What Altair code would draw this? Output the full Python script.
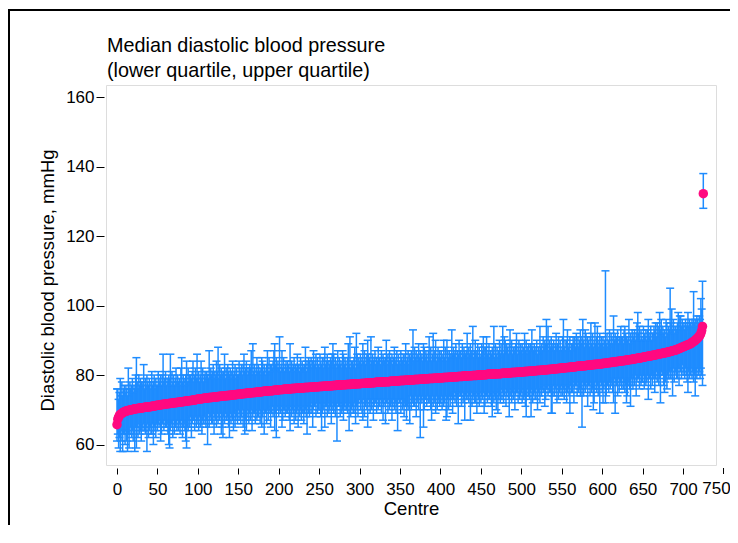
import altair as alt
import pandas as pd

# ---- data (centres sorted by median DBP) ----
MEDIAN = [
    65.7, 67.3, 67.9, 68.3, 68.6, 68.8, 69.0, 69.1, 69.3, 69.4, 69.5, 69.6, 69.7, 69.7, 69.8, 69.9, 69.9, 70.0, 70.0, 70.1, 70.1, 70.2, 70.2, 70.3, 70.3,
    70.4, 70.4, 70.4, 70.5, 70.5, 70.5, 70.6, 70.6, 70.6, 70.7, 70.7, 70.7, 70.8, 70.8, 70.8, 70.9, 70.9, 70.9, 71.0, 71.0, 71.0, 71.1, 71.1, 71.2, 71.2,
    71.3, 71.3, 71.3, 71.4, 71.4, 71.5, 71.5, 71.5, 71.6, 71.6, 71.6, 71.7, 71.7, 71.7, 71.8, 71.8, 71.8, 71.9, 71.9, 71.9, 72.0, 72.0, 72.0, 72.1, 72.1,
    72.1, 72.2, 72.2, 72.2, 72.3, 72.3, 72.3, 72.4, 72.4, 72.4, 72.5, 72.5, 72.5, 72.6, 72.6, 72.6, 72.7, 72.7, 72.7, 72.8, 72.8, 72.8, 72.9, 72.9, 73.0,
    73.0, 73.1, 73.1, 73.1, 73.2, 73.2, 73.2, 73.3, 73.3, 73.3, 73.3, 73.4, 73.4, 73.4, 73.5, 73.5, 73.5, 73.5, 73.6, 73.6, 73.6, 73.7, 73.7, 73.7, 73.7,
    73.8, 73.8, 73.8, 73.9, 73.9, 73.9, 73.9, 74.0, 74.0, 74.0, 74.0, 74.1, 74.1, 74.1, 74.1, 74.2, 74.2, 74.2, 74.3, 74.3, 74.3, 74.3, 74.4, 74.4, 74.4,
    74.5, 74.5, 74.5, 74.5, 74.6, 74.6, 74.6, 74.7, 74.7, 74.7, 74.7, 74.8, 74.8, 74.8, 74.8, 74.9, 74.9, 74.9, 74.9, 75.0, 75.0, 75.0, 75.0, 75.1, 75.1,
    75.1, 75.1, 75.2, 75.2, 75.2, 75.2, 75.3, 75.3, 75.3, 75.3, 75.4, 75.4, 75.4, 75.4, 75.5, 75.5, 75.5, 75.5, 75.5, 75.6, 75.6, 75.6, 75.6, 75.7, 75.7,
    75.7, 75.8, 75.8, 75.8, 75.8, 75.8, 75.9, 75.9, 75.9, 75.9, 75.9, 76.0, 76.0, 76.0, 76.0, 76.0, 76.1, 76.1, 76.1, 76.1, 76.1, 76.2, 76.2, 76.2, 76.2,
    76.2, 76.3, 76.3, 76.3, 76.3, 76.3, 76.3, 76.4, 76.4, 76.4, 76.4, 76.4, 76.4, 76.5, 76.5, 76.5, 76.5, 76.5, 76.5, 76.6, 76.6, 76.6, 76.6, 76.6, 76.6,
    76.7, 76.7, 76.7, 76.7, 76.7, 76.8, 76.8, 76.8, 76.8, 76.8, 76.8, 76.9, 76.9, 76.9, 76.9, 76.9, 76.9, 77.0, 77.0, 77.0, 77.0, 77.0, 77.1, 77.1, 77.1,
    77.1, 77.1, 77.1, 77.2, 77.2, 77.2, 77.2, 77.2, 77.2, 77.3, 77.3, 77.3, 77.3, 77.3, 77.3, 77.4, 77.4, 77.4, 77.4, 77.4, 77.4, 77.5, 77.5, 77.5, 77.5,
    77.5, 77.5, 77.6, 77.6, 77.6, 77.6, 77.6, 77.6, 77.7, 77.7, 77.7, 77.7, 77.7, 77.7, 77.8, 77.8, 77.8, 77.8, 77.8, 77.8, 77.9, 77.9, 77.9, 77.9, 77.9,
    77.9, 78.0, 78.0, 78.0, 78.0, 78.0, 78.0, 78.1, 78.1, 78.1, 78.1, 78.1, 78.1, 78.2, 78.2, 78.2, 78.2, 78.2, 78.2, 78.3, 78.3, 78.3, 78.3, 78.3, 78.3,
    78.4, 78.4, 78.4, 78.4, 78.4, 78.4, 78.5, 78.5, 78.5, 78.5, 78.5, 78.5, 78.6, 78.6, 78.6, 78.6, 78.6, 78.6, 78.7, 78.7, 78.7, 78.7, 78.7, 78.7, 78.8,
    78.8, 78.8, 78.8, 78.8, 78.8, 78.9, 78.9, 78.9, 78.9, 78.9, 78.9, 79.0, 79.0, 79.0, 79.0, 79.0, 79.0, 79.1, 79.1, 79.1, 79.1, 79.1, 79.1, 79.2, 79.2,
    79.2, 79.2, 79.2, 79.2, 79.3, 79.3, 79.3, 79.3, 79.3, 79.3, 79.4, 79.4, 79.4, 79.4, 79.4, 79.4, 79.5, 79.5, 79.5, 79.5, 79.5, 79.5, 79.6, 79.6, 79.6,
    79.6, 79.6, 79.6, 79.7, 79.7, 79.7, 79.7, 79.7, 79.7, 79.8, 79.8, 79.8, 79.8, 79.8, 79.8, 79.9, 79.9, 79.9, 79.9, 79.9, 79.9, 80.0, 80.0, 80.0, 80.0,
    80.0, 80.0, 80.1, 80.1, 80.1, 80.1, 80.1, 80.1, 80.2, 80.2, 80.2, 80.2, 80.2, 80.2, 80.3, 80.3, 80.3, 80.3, 80.3, 80.3, 80.4, 80.4, 80.4, 80.4, 80.4,
    80.4, 80.5, 80.5, 80.5, 80.5, 80.5, 80.5, 80.6, 80.6, 80.6, 80.6, 80.6, 80.6, 80.7, 80.7, 80.7, 80.7, 80.7, 80.7, 80.8, 80.8, 80.8, 80.8, 80.8, 80.8,
    80.9, 80.9, 80.9, 80.9, 81.0, 81.0, 81.0, 81.0, 81.0, 81.1, 81.1, 81.1, 81.1, 81.1, 81.2, 81.2, 81.2, 81.2, 81.2, 81.3, 81.3, 81.3, 81.3, 81.3, 81.4,
    81.4, 81.4, 81.4, 81.4, 81.5, 81.5, 81.5, 81.5, 81.6, 81.6, 81.6, 81.6, 81.7, 81.7, 81.7, 81.7, 81.8, 81.8, 81.8, 81.8, 81.9, 81.9, 81.9, 81.9, 82.0,
    82.0, 82.0, 82.0, 82.1, 82.1, 82.1, 82.1, 82.2, 82.2, 82.2, 82.2, 82.3, 82.3, 82.3, 82.3, 82.4, 82.4, 82.4, 82.4, 82.5, 82.5, 82.5, 82.5, 82.6, 82.6,
    82.6, 82.6, 82.7, 82.7, 82.7, 82.7, 82.8, 82.8, 82.8, 82.8, 82.9, 82.9, 82.9, 82.9, 83.0, 83.0, 83.0, 83.0, 83.1, 83.1, 83.1, 83.1, 83.2, 83.2, 83.2,
    83.3, 83.3, 83.3, 83.4, 83.4, 83.4, 83.5, 83.5, 83.5, 83.6, 83.6, 83.6, 83.7, 83.7, 83.7, 83.8, 83.8, 83.8, 83.9, 83.9, 83.9, 84.0, 84.0, 84.0, 84.1,
    84.1, 84.1, 84.2, 84.2, 84.2, 84.3, 84.3, 84.4, 84.4, 84.4, 84.5, 84.5, 84.5, 84.6, 84.6, 84.7, 84.7, 84.7, 84.8, 84.8, 84.9, 84.9, 84.9, 85.0, 85.0,
    85.1, 85.1, 85.2, 85.2, 85.3, 85.3, 85.4, 85.4, 85.4, 85.5, 85.5, 85.6, 85.6, 85.7, 85.7, 85.8, 85.8, 85.9, 85.9, 86.0, 86.0, 86.1, 86.1, 86.2, 86.2,
    86.3, 86.3, 86.4, 86.4, 86.5, 86.5, 86.6, 86.6, 86.7, 86.8, 86.8, 86.9, 87.0, 87.0, 87.1, 87.2, 87.2, 87.3, 87.4, 87.5, 87.6, 87.7, 87.8, 87.9, 88.0,
    88.1, 88.2, 88.3, 88.4, 88.5, 88.6, 88.7, 88.8, 88.9, 89.0, 89.2, 89.3, 89.5, 89.6, 89.8, 90.0, 90.2, 90.4, 90.6, 90.9, 91.2, 91.5, 92.0, 92.8, 94.0,
    132.2,
]

LOWER_Q = [
    61, 63, 59, 62, 58, 61, 64, 58, 63, 63, 60, 64, 61, 58, 63, 59, 63, 65, 62, 64, 61, 63, 58, 65, 59,
    65, 62, 66, 63, 64, 61, 65, 64, 66, 64, 63, 65, 58, 66, 62, 64, 65, 63, 63, 66, 60, 65, 64, 62, 66,
    64, 66, 65, 67, 61, 63, 66, 66, 64, 67, 65, 65, 66, 63, 60, 59, 64, 66, 65, 62, 67, 63, 65, 66, 64,
    67, 64, 66, 63, 65, 67, 62, 65, 66, 64, 61, 59, 65, 64, 67, 65, 68, 62, 66, 67, 67, 64, 68, 65, 66,
    67, 64, 68, 65, 66, 63, 67, 66, 68, 66, 65, 67, 60, 69, 65, 67, 68, 66, 66, 69, 63, 68, 67, 65, 69,
    66, 68, 67, 69, 63, 65, 62, 68, 66, 69, 67, 67, 68, 65, 62, 69, 66, 68, 67, 64, 69, 65, 67, 68, 66,
    70, 67, 69, 66, 68, 70, 65, 68, 63, 67, 64, 70, 68, 66, 69, 67, 70, 64, 68, 69, 69, 66, 70, 67, 68,
    68, 70, 66, 69, 65, 68, 70, 63, 69, 69, 66, 70, 67, 69, 70, 65, 69, 71, 68, 70, 64, 69, 62, 71, 70,
    68, 70, 69, 71, 65, 67, 70, 70, 68, 71, 69, 69, 70, 67, 64, 71, 68, 70, 69, 66, 71, 67, 69, 70, 65,
    71, 68, 70, 67, 69, 71, 66, 69, 70, 68, 63, 71, 69, 68, 71, 69, 72, 65, 70, 71, 71, 68, 72, 69, 70,
    70, 72, 68, 64, 69, 70, 72, 65, 71, 71, 68, 72, 69, 70, 71, 66, 70, 72, 69, 71, 68, 70, 61, 72, 71,
    71, 68, 72, 69, 70, 67, 71, 70, 72, 70, 69, 71, 64, 72, 68, 70, 71, 69, 69, 72, 66, 71, 70, 68, 72,
    73, 70, 72, 69, 67, 73, 68, 71, 72, 70, 65, 73, 71, 69, 72, 70, 73, 67, 71, 72, 72, 69, 73, 70, 71,
    71, 73, 69, 72, 67, 71, 73, 66, 72, 72, 69, 73, 70, 71, 72, 67, 71, 73, 70, 72, 69, 71, 64, 73, 72,
    72, 69, 73, 70, 71, 68, 72, 71, 67, 71, 70, 72, 66, 74, 70, 72, 73, 71, 71, 74, 68, 73, 72, 70, 74,
    62, 73, 72, 74, 65, 70, 73, 73, 71, 74, 72, 72, 73, 70, 67, 74, 71, 73, 72, 69, 74, 70, 72, 73, 71,
    72, 74, 70, 73, 71, 72, 74, 67, 68, 73, 70, 74, 71, 73, 74, 69, 73, 75, 72, 74, 71, 73, 66, 75, 74,
    74, 71, 75, 72, 73, 67, 74, 73, 75, 73, 72, 74, 67, 75, 71, 73, 74, 72, 72, 75, 69, 74, 73, 71, 75,
    72, 74, 73, 75, 69, 71, 74, 74, 72, 75, 73, 73, 74, 71, 68, 75, 72, 74, 73, 70, 75, 69, 73, 74, 72,
    76, 73, 75, 72, 74, 76, 71, 74, 75, 73, 68, 76, 74, 72, 75, 73, 76, 70, 74, 75, 75, 72, 76, 73, 74,
    75, 72, 76, 73, 74, 71, 68, 74, 76, 74, 73, 75, 68, 76, 72, 74, 75, 73, 73, 76, 70, 75, 74, 72, 76,
    74, 76, 75, 77, 71, 73, 76, 76, 74, 77, 75, 75, 69, 69, 74, 77, 74, 76, 75, 72, 77, 73, 75, 76, 74,
    77, 74, 76, 73, 75, 77, 72, 75, 76, 74, 69, 77, 75, 75, 78, 72, 76, 77, 77, 74, 78, 75, 76, 74, 76,
    65, 78, 74, 77, 75, 76, 78, 71, 77, 77, 74, 78, 75, 76, 70, 72, 76, 78, 75, 77, 74, 76, 69, 78, 77,
    75, 72, 76, 78, 72, 74, 77, 77, 75, 78, 76, 77, 78, 75, 72, 79, 69, 78, 77, 74, 79, 75, 77, 78, 76,
    79, 76, 78, 75, 77, 72, 74, 77, 78, 76, 71, 79, 77, 76, 79, 77, 80, 74, 78, 79, 79, 76, 80, 77, 78,
    78, 80, 76, 79, 77, 78, 80, 73, 79, 79, 76, 80, 77, 79, 80, 75, 79, 81, 78, 80, 77, 79, 72, 81, 80,
    80, 77, 75, 78, 79, 76, 80, 79, 81, 79, 79, 81, 74, 82, 78, 80, 81, 79, 79, 82, 77, 82, 81, 79, 83,
    80, 81, 79, 82, 80, 78, 75, 81, 79, 80, 82, 79, 81, 78, 80, 74, 81, 79, 82, 80, 81, 79, 82, 80, 77,
    128,
]

UPPER_Q = [
    76, 76, 73, 75, 79, 74, 78, 74, 76, 77, 75, 77, 76, 74, 82, 76, 78, 76, 77, 79, 75, 77, 76, 80, 85,
    78, 76, 80, 77, 79, 78, 77, 78, 83, 76, 79, 77, 80, 78, 77, 79, 76, 78, 81, 77, 78, 80, 76, 79, 77,
    77, 81, 79, 78, 80, 77, 80, 86, 78, 79, 81, 77, 79, 78, 80, 79, 86, 77, 81, 78, 80, 77, 79, 82, 78,
    80, 78, 79, 77, 82, 85, 78, 80, 79, 77, 80, 84, 78, 82, 78, 80, 80, 79, 81, 84, 78, 80, 82, 79, 86,
    79, 81, 78, 80, 84, 79, 82, 78, 80, 81, 79, 81, 80, 79, 87, 80, 82, 80, 81, 83, 79, 81, 80, 84, 81,
    88, 79, 83, 80, 82, 81, 80, 81, 86, 79, 82, 80, 83, 81, 80, 82, 79, 81, 84, 80, 81, 83, 79, 82, 80,
    80, 84, 82, 81, 83, 80, 83, 86, 81, 82, 84, 80, 82, 81, 83, 82, 87, 80, 89, 81, 83, 80, 82, 85, 81,
    83, 81, 82, 80, 85, 84, 81, 83, 82, 80, 83, 87, 81, 85, 81, 83, 83, 82, 84, 87, 89, 83, 85, 82, 84,
    82, 91, 81, 83, 87, 82, 85, 81, 83, 84, 82, 84, 83, 81, 89, 82, 84, 82, 83, 85, 81, 83, 82, 86, 83,
    83, 81, 85, 82, 84, 83, 82, 83, 88, 81, 84, 82, 85, 84, 83, 85, 82, 84, 87, 83, 84, 86, 82, 85, 83,
    82, 86, 84, 83, 85, 82, 85, 88, 83, 84, 86, 82, 84, 83, 85, 84, 86, 89, 86, 83, 85, 82, 84, 87, 83,
    85, 83, 84, 82, 87, 86, 83, 85, 84, 82, 85, 89, 83, 91, 82, 84, 84, 83, 85, 88, 82, 92, 86, 83, 85,
    84, 86, 83, 85, 89, 84, 87, 83, 85, 86, 90, 86, 85, 83, 91, 84, 86, 84, 85, 87, 83, 85, 84, 88, 85,
    85, 83, 87, 84, 86, 85, 84, 85, 90, 83, 86, 84, 87, 85, 84, 86, 83, 85, 88, 84, 85, 87, 83, 86, 84,
    83, 87, 85, 84, 86, 83, 86, 89, 84, 85, 87, 83, 86, 85, 87, 86, 93, 84, 88, 85, 87, 84, 86, 89, 85,
    87, 85, 86, 84, 89, 88, 85, 87, 86, 84, 87, 91, 85, 88, 84, 86, 92, 85, 87, 90, 84, 86, 88, 85, 87,
    85, 87, 84, 86, 90, 85, 88, 84, 90, 87, 85, 87, 86, 85, 93, 86, 88, 86, 87, 89, 85, 87, 86, 90, 87,
    87, 85, 89, 86, 88, 87, 86, 87, 92, 85, 88, 86, 89, 87, 86, 94, 85, 87, 90, 86, 87, 89, 85, 88, 86,
    85, 89, 87, 91, 88, 85, 88, 91, 86, 87, 89, 85, 87, 86, 88, 87, 94, 85, 89, 86, 88, 85, 87, 90, 86,
    89, 87, 94, 86, 91, 90, 87, 89, 88, 86, 89, 93, 87, 90, 86, 88, 88, 87, 89, 92, 86, 88, 90, 87, 89,
    87, 89, 86, 88, 92, 87, 90, 86, 88, 89, 87, 89, 88, 93, 88, 87, 89, 87, 88, 90, 86, 88, 87, 94, 88,
    89, 87, 91, 88, 90, 89, 96, 89, 94, 87, 90, 88, 91, 89, 88, 90, 87, 89, 92, 88, 89, 91, 87, 90, 88,
    87, 91, 96, 88, 90, 87, 90, 93, 88, 89, 91, 87, 89, 89, 91, 90, 91, 88, 92, 89, 91, 88, 90, 93, 89,
    91, 96, 90, 88, 93, 92, 89, 91, 90, 88, 91, 95, 89, 92, 88, 90, 95, 89, 91, 94, 88, 90, 92, 89, 91,
    89, 91, 88, 90, 110, 89, 92, 88, 90, 93, 89, 92, 91, 89, 97, 90, 92, 90, 91, 93, 89, 91, 90, 94, 91,
    91, 89, 93, 94, 92, 91, 90, 91, 96, 89, 92, 90, 93, 92, 91, 93, 90, 92, 95, 98, 92, 94, 90, 93, 91,
    90, 94, 92, 91, 93, 90, 93, 96, 91, 92, 94, 90, 92, 92, 94, 93, 95, 91, 95, 92, 94, 98, 93, 96, 92,
    94, 92, 93, 91, 96, 95, 92, 94, 93, 105, 95, 99, 93, 96, 92, 94, 94, 93, 95, 98, 93, 97, 97, 94, 96,
    94, 95, 93, 96, 94, 95, 98, 94, 96, 95, 94, 96, 95, 104, 95, 96, 94, 97, 96, 95, 97, 96, 102, 99, 107,
    138,
]

X_TICKS = [0, 50, 100, 150, 200, 250, 300, 350, 400, 450, 500, 550, 600, 650, 700, 750]
Y_TICKS = [60, 80, 100, 120, 140, 160]
TITLE_LINES = ["Median diastolic blood pressure", "(lower quartile, upper quartile)"]
X_TITLE = "Centre"
Y_TITLE = "Diastolic blood pressure, mmHg"

# ---- layout / style ----
W, H = 610, 380
# whole svg = 722 x 517, small enough that the page never needs a scrollbar
PAD = {"left": 98, "top": 77, "right": 14, "bottom": 60}
X_DOMAIN = [-13.6, 740.7]
Y_DOMAIN = [54.1, 163.5]
BLUE = "#1E8CFF"
PINK = "#FF0A80"
FONT = "Liberation Sans"
X_OFFSET, X_TICKLEN, X_LABPAD = 3, 6, 7

n = len(MEDIAN)
df = pd.DataFrame({
    "centre": list(range(n)),
    "median": MEDIAN,
    "q1": LOWER_Q,
    "q3": UPPER_Q,
})

in_ticks = [t for t in X_TICKS if X_DOMAIN[0] <= t <= X_DOMAIN[1]]
out_ticks = [t for t in X_TICKS if t > X_DOMAIN[1]]

xscale = alt.Scale(domain=X_DOMAIN, nice=False, zero=False)
yscale = alt.Scale(domain=Y_DOMAIN, nice=False, zero=False)

xaxis = alt.Axis(
    values=in_ticks, domain=False, grid=False, offset=X_OFFSET,
    tickSize=X_TICKLEN, tickColor="#000", tickWidth=1,
    labelFont=FONT, labelFontSize=17, labelColor="#000", labelPadding=X_LABPAD,
    labelOverlap=False,
    titleFont=FONT, titleFontSize=18.5, titleFontWeight="normal", titleColor="#000",
    titleBaseline="alphabetic", titleY=46,
)
yaxis = alt.Axis(
    values=Y_TICKS, domain=False, grid=False, offset=2,
    tickSize=8, tickColor="#000", tickWidth=1,
    labelFont=FONT, labelFontSize=17, labelColor="#000", labelPadding=2,
    titleFont=FONT, titleFontSize=18.5, titleFontWeight="normal", titleColor="#000",
    titleAngle=270, titleBaseline="alphabetic", titleAlign="center",
    titleX=-51, titleY=195,
)

x_enc = alt.X("centre:Q", scale=xscale, axis=xaxis, title=X_TITLE)

base = alt.Chart(df)

bars = base.mark_rule(color=BLUE, strokeWidth=1.5).encode(
    x=x_enc,
    y=alt.Y("q1:Q", scale=yscale, axis=yaxis, title=Y_TITLE),
    y2="q3:Q",
)
cap_lo = base.mark_tick(orient="horizontal", color=BLUE, size=8, thickness=1.5, opacity=1).encode(
    x=x_enc,
    y=alt.Y("q1:Q", scale=yscale, axis=yaxis, title=Y_TITLE),
)
cap_hi = base.mark_tick(orient="horizontal", color=BLUE, size=8, thickness=1.5, opacity=1).encode(
    x=x_enc,
    y=alt.Y("q3:Q", scale=yscale, axis=yaxis, title=Y_TITLE),
)
dots = base.mark_circle(color=PINK, size=90, opacity=1).encode(
    x=x_enc,
    y=alt.Y("median:Q", scale=yscale, axis=yaxis, title=Y_TITLE),
)

# the last x tick (750) lies beyond the plot region, as in the reference;
# its label is nudged left just enough to stay inside the drawing
extra = alt.Chart(pd.DataFrame({"centre": out_ticks, "label": [str(t) for t in out_ticks]}))
extra_tick = extra.mark_rule(color="#000", strokeWidth=1).encode(
    x=x_enc,
    y=alt.value(H + X_OFFSET),
    y2=alt.value(H + X_OFFSET + X_TICKLEN),
)
extra_label = extra.mark_text(
    font=FONT, fontSize=17, color="#000", baseline="top", align="center", dx=-7
).encode(
    x=x_enc,
    y=alt.value(H + X_OFFSET + X_TICKLEN + X_LABPAD),
    text="label:N",
)

# two-line heading above the plot region
heading1 = alt.Chart(pd.DataFrame({"line": TITLE_LINES[:1]})).mark_text(
    font=FONT, fontSize=19.8, color="#000", align="left", baseline="alphabetic"
).encode(x=alt.value(1), y=alt.value(-33), text="line:N")
heading2 = alt.Chart(pd.DataFrame({"line": TITLE_LINES[1:]})).mark_text(
    font=FONT, fontSize=19.8, color="#000", align="left", baseline="alphabetic"
).encode(x=alt.value(1), y=alt.value(-8), text="line:N")

# outer graph-region border: thin filled strips along its top and left sides
one = alt.Chart(pd.DataFrame({"k": [0]}))
BX, BY = -98, -76
border_left = one.mark_rect(color="#000", strokeWidth=0).encode(
    x=alt.value(BX), x2=alt.value(BX + 2),
    y=alt.value(BY), y2=alt.value(H + PAD["bottom"]),
)
border_top = one.mark_rect(color="#000", strokeWidth=0).encode(
    x=alt.value(BX), x2=alt.value(W + PAD["right"]),
    y=alt.value(BY), y2=alt.value(BY + 2),
)

chart = alt.layer(
    bars, cap_lo, cap_hi, dots, extra_tick, extra_label,
    heading1, heading2, border_left, border_top,
).properties(
    width=W, height=H,
    autosize=alt.AutoSizeParams(type="none"),
    padding=PAD,
).configure_view(
    stroke="#000", strokeWidth=1
).configure(background="white")

chart.save("out.html", embed_options={"renderer": "svg", "actions": False})
